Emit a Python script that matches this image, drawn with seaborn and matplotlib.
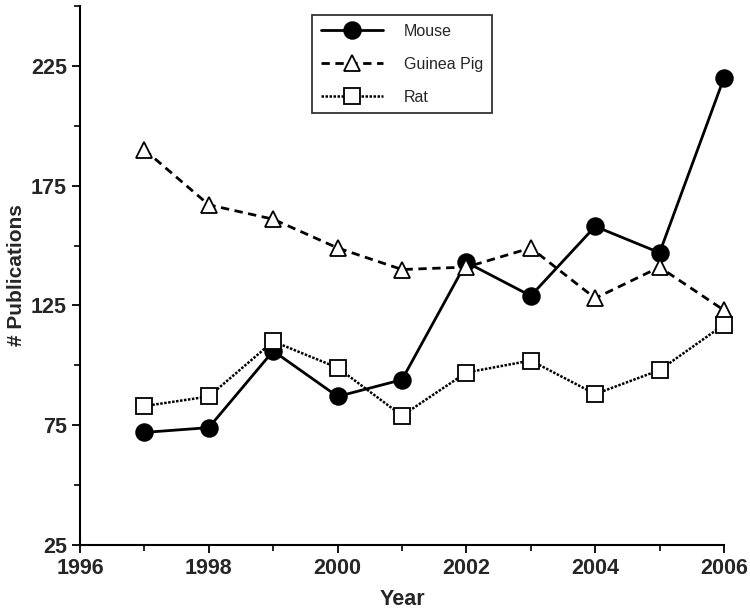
"""Publications per year by animal model: line chart with open/filled markers."""
import matplotlib.pyplot as plt
from matplotlib.ticker import MultipleLocator
import pandas as pd
import seaborn as sns

years = [1997, 1998, 1999, 2000, 2001, 2002, 2003, 2004, 2005, 2006]
mouse = [72, 74, 106, 87, 94, 143, 129, 158, 147, 220]
guinea_pig = [190, 167, 161, 149, 140, 141, 149, 128, 141, 123]
rat = [83, 87, 110, 99, 79, 97, 102, 88, 98, 117]

series_names = ['Mouse', 'Guinea Pig', 'Rat']

df = pd.DataFrame({'Year': years, 'Mouse': mouse, 'Guinea Pig': guinea_pig, 'Rat': rat})
df_long = df.melt(id_vars='Year', var_name='Series', value_name='Publications')

sns.set_style('ticks')
plt.rcParams['font.family'] = ['Liberation Sans', 'DejaVu Sans']

fig = plt.figure(figsize=(7.5, 6.11), dpi=100)
ax = fig.add_axes([80 / 750, 66 / 611, 644 / 750, 539 / 611])

styles = {
    'Mouse': dict(linestyle='-', marker='o', markerfacecolor='black', markersize=12, linewidth=2.0),
    'Guinea Pig': dict(linestyle=(0, (3, 2)), marker='^', markerfacecolor='white', markersize=11,
                       linewidth=2.0),
    'Rat': dict(linestyle=(0, (1, 0.6)), marker='s', markerfacecolor='white', markersize=11,
                linewidth=1.8),
}

for name in series_names:
    sub = df_long[df_long['Series'] == name]
    sns.lineplot(data=sub, x='Year', y='Publications', color='black', markeredgecolor='black',
                 markeredgewidth=1.3, label=name, ax=ax, clip_on=False, **styles[name])

ax.set_xlim(1996, 2006)
ax.set_ylim(25, 250)
ax.set_yticks([25, 75, 125, 175, 225])
ax.xaxis.set_major_locator(MultipleLocator(2))
ax.xaxis.set_minor_locator(MultipleLocator(1))
ax.yaxis.set_minor_locator(MultipleLocator(25))
ax.tick_params(axis='both', which='major', length=6, width=1.3, labelsize=15.5, color='black')
ax.tick_params(axis='both', which='minor', length=4, width=1.2, color='black')
for lbl in ax.get_xticklabels() + ax.get_yticklabels():
    lbl.set_fontweight('bold')

ax.set_xlabel('Year', fontsize=15.5, fontweight='bold')
ax.set_ylabel('# Publications', fontsize=15, fontweight='bold')
ax.xaxis.set_label_coords(0.5, -0.082)
ax.yaxis.set_label_coords(-0.084, 0.5)

sns.despine(ax=ax)
for side in ['left', 'bottom']:
    ax.spines[side].set_linewidth(1.5)
    ax.spines[side].set_color('black')

leg = ax.legend(loc='upper left', bbox_to_anchor=(312 / 750, 1 - 15 / 611),
                bbox_transform=fig.transFigure, frameon=True, fancybox=False,
                fontsize=11.5, handlelength=3.9, handletextpad=1.3, labelspacing=1.12,
                borderpad=0.55, borderaxespad=0)
leg.get_frame().set_edgecolor('black')
leg.get_frame().set_linewidth(1.3)

fig.savefig('out.png', dpi=100)
